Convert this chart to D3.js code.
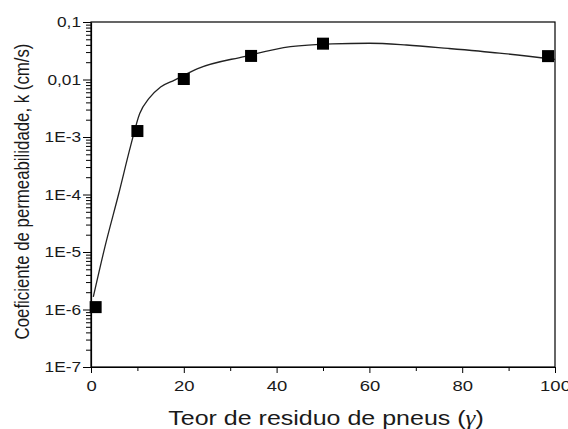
<!DOCTYPE html>
<html>
<head>
<meta charset="utf-8">
<script src="https://cdn.jsdelivr.net/npm/d3@7"></script>
<style>
	body { margin: 0; background: #fff; }
	svg { display: block; font-family: "Liberation Sans", Arial, sans-serif; }
	.axis path, .axis line { stroke: #000; }
	.axis text { fill: #1a1a1a; }
</style>
</head>
<body>
<div id="chart"></div>
<script>
// measured points
var teor = [1, 10, 20, 34.5, 50, 98.5];
var kValues = [1.1e-6, 1.27e-3, 1.02e-2, 2.57e-2, 4.2e-2, 2.55e-2];

// fitted curve
var fitTeor = [0.5, 3, 6, 8.5, 10.5, 12.5, 15, 18, 23, 33, 43, 52, 60, 68, 77, 88, 100];
var fitK = [1.66e-6, 1.23e-5, 1.05e-4, 6.8e-4, 2.57e-3, 4.68e-3, 7.41e-3, 9.77e-3, 1.55e-2,
	2.51e-2, 3.72e-2, 4.17e-2, 4.27e-2, 3.98e-2, 3.47e-2, 2.88e-2, 2.24e-2];

var xTicks = [0, 20, 40, 60, 80, 100];
var xMinorTicks = [10, 30, 50, 70, 90];
var yTicks = [1e-7, 1e-6, 1e-5, 1e-4, 1e-3, 1e-2, 1e-1];
var yTickLabels = ["1E-7", "1E-6", "1E-5", "1E-4", "1E-3", "0,01", "0,1"];

var width = 568,
	height = 429;
var margin = {top: 22, right: 13, bottom: 62, left: 91};
var stretch = 1.19; // the original text is wider than it is tall

var svg = d3.select("#chart")
	.append("svg")
		.attr("width", width)
		.attr("height", height);

var x = d3.scaleLinear()
	.domain([0, 100])
	.range([margin.left, width - margin.right]);

var y = d3.scaleLog()
	.domain([1e-7, 1e-1])
	.range([height - margin.bottom, margin.top]);

// minor log ticks between decades
var yMinor = [];
yTicks.slice(0, -1).forEach(function(d) {
	for (var m = 2; m <= 9; m++) yMinor.push(d * m);
});

function widen(sel) {
	sel.each(function() {
		var len = this.getComputedTextLength();
		d3.select(this)
			.attr("textLength", len * stretch)
			.attr("lengthAdjust", "spacingAndGlyphs");
	});
}

// frame
svg.append("rect")
	.attr("x", x(0))
	.attr("y", y(1e-1))
	.attr("width", x(100) - x(0))
	.attr("height", y(1e-7) - y(1e-1))
	.attr("fill", "none")
	.attr("stroke", "#000")
	.attr("stroke-width", 1.2);

svg.append("g")
	.attr("class", "axis")
	.attr("transform", "translate(0," + y(1e-7) + ")")
	.call(d3.axisBottom(x).tickValues(xMinorTicks).tickSize(4).tickFormat(""))
	.call(function(g) { g.select(".domain").remove(); });

svg.append("g")
	.attr("class", "axis")
	.attr("transform", "translate(0," + y(1e-7) + ")")
	.call(d3.axisBottom(x).tickValues(xTicks).tickSize(6).tickPadding(7).tickSizeOuter(0))
	.call(function(g) {
		g.select(".domain").attr("stroke-width", 1.2);
		g.selectAll("text").attr("font-size", 15.5).call(widen);
	});

svg.append("g")
	.attr("class", "axis")
	.attr("transform", "translate(" + x(0) + ",0)")
	.call(d3.axisLeft(y).tickValues(yMinor).tickSize(5).tickFormat(""))
	.call(function(g) { g.select(".domain").remove(); });

svg.append("g")
	.attr("class", "axis")
	.attr("transform", "translate(" + x(0) + ",0)")
	.call(d3.axisLeft(y).tickValues(yTicks).tickSize(8).tickPadding(2).tickSizeOuter(0)
		.tickFormat(function(d, i) { return yTickLabels[i]; }))
	.call(function(g) {
		g.select(".domain").attr("stroke-width", 1.2);
		g.selectAll("text").attr("font-size", 14.5).call(widen);
	});

// fit line
var line = d3.line()
	.x(function(d, i) { return x(fitTeor[i]); })
	.y(function(d) { return y(d); })
	.curve(d3.curveMonotoneX);

svg.append("path")
	.attr("d", line(fitK))
	.attr("fill", "none")
	.attr("stroke", "#222")
	.attr("stroke-width", 1.3);

// markers
var size = 12;
svg.selectAll("rect.pt")
	.data(kValues)
	.enter().append("rect")
		.attr("class", "pt")
		.attr("x", function(d, i) { return x(teor[i]) - size/2; })
		.attr("y", function(d) { return y(d) - size/2; })
		.attr("width", size)
		.attr("height", size)
		.attr("fill", "#000");

// axis titles
svg.append("text")
	.attr("transform", "translate(28.5,191.5) rotate(-90) scale(1," + stretch + ")")
	.attr("text-anchor", "middle")
	.attr("font-size", 16.8)
	.attr("fill", "#1a1a1a")
	.text("Coeficiente de permeabilidade, k (cm/s)");

var xt = svg.append("text")
	.attr("transform", "translate(326,425) scale(" + stretch + ",1)")
	.attr("text-anchor", "middle")
	.attr("font-size", 21)
	.attr("fill", "#1a1a1a")
	.text("Teor de residuo de pneus (");
xt.append("tspan")
	.attr("font-family", "'Liberation Serif', 'DejaVu Serif', serif")
	.attr("font-style", "italic")
	.text("γ");
xt.append("tspan").text(")");
</script>
</body>
</html>
